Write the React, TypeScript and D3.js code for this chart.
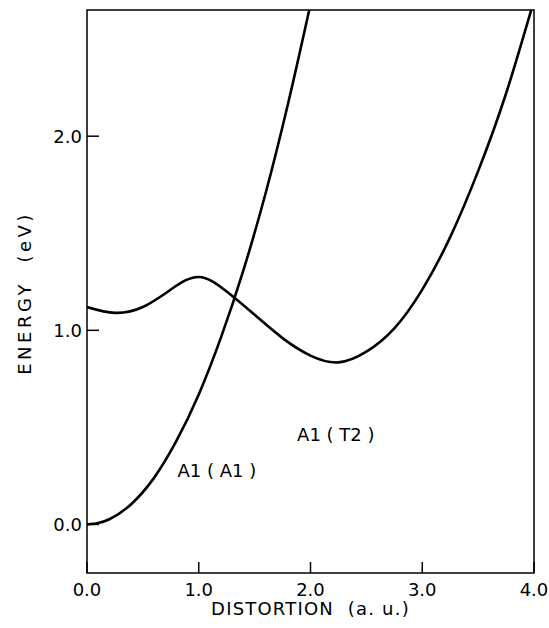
import React from 'react';
import * as d3 from 'd3';

// distortion (a.u.) vs energy (eV)
const a1Distortion = [0, 0.1, 0.2, 0.4, 0.6, 0.8, 1.0, 1.2, 1.4, 1.6, 1.8, 2.0];
const a1Energy = [0, 0.007, 0.027, 0.107, 0.24, 0.43, 0.67, 0.965, 1.31, 1.71, 2.17, 2.68];

const t2Distortion = [0, 0.25, 0.5, 0.75, 1.0, 1.25, 1.5, 1.75, 2.0, 2.25, 2.5, 2.75, 3.0, 3.25, 3.5, 3.75, 4.0];
const t2Energy = [1.12, 1.09, 1.12, 1.21, 1.275, 1.2, 1.08, 0.96, 0.87, 0.835, 0.89, 1.01, 1.21, 1.48, 1.82, 2.22, 2.7];

const xTicks = [0, 1, 2, 3, 4];
const yTicks = [0, 1, 2];

const W = 549, H = 628;
const margin = { left: 87, right: 15, top: 10, bottom: 55 };
const FONT = "'DejaVu Sans', sans-serif";

export default function App() {
  const x = d3.scaleLinear().domain([0, 4]).range([margin.left, W - margin.right]);
  const y = d3.scaleLinear().domain([-0.25, 2.65]).range([H - margin.bottom, margin.top]);

  const lineA1 = d3.line<[number, number]>()
    .x(d => x(d[0]))
    .y(d => y(d[1]))
    .curve(d3.curveMonotoneX);
  const lineT2 = d3.line<[number, number]>()
    .x(d => x(d[0]))
    .y(d => y(d[1]))
    .curve(d3.curveNatural);

  const a1Path = lineA1(a1Distortion.map((d, i) => [d, a1Energy[i]]));
  const t2Path = lineT2(t2Distortion.map((d, i) => [d, t2Energy[i]]));

  const x0 = x(0), x1 = x(4), yb = y(-0.25), yt = y(2.65);

  return (
    <div style={{ position: 'absolute', left: 0, top: 0 }}>
      <svg width={W} height={H} style={{ display: 'block', background: '#fff' }}>
        <defs>
          <clipPath id="plot">
            <rect x={x0} y={yt} width={x1 - x0} height={yb - yt} />
          </clipPath>
        </defs>
        <g clipPath="url(#plot)" fill="none" stroke="#000" strokeWidth={2.6}>
          <path d={a1Path || ''} />
          <path d={t2Path || ''} />
        </g>
        <rect x={x0} y={yt} width={x1 - x0} height={yb - yt} fill="none" stroke="#000" strokeWidth={1.5} />
        {xTicks.map(t => (
          <g key={'x' + t}>
            <line x1={x(t)} x2={x(t)} y1={yb} y2={yb - 11} stroke="#000" strokeWidth={1.5} />
            <text x={x(t)} y={yb + 23} textAnchor="middle" fontFamily={FONT} fontSize={18}>
              {t.toFixed(1)}
            </text>
          </g>
        ))}
        {yTicks.map(t => (
          <g key={'y' + t}>
            <line x1={x0} x2={x0 + 12} y1={y(t)} y2={y(t)} stroke="#000" strokeWidth={1.5} />
            <text x={x0 - 5} y={y(t) + 7} textAnchor="end" fontFamily={FONT} fontSize={18}>
              {t.toFixed(1)}
            </text>
          </g>
        ))}
        <text x={(x0 + x1) / 2} y={yb + 42} textAnchor="middle" fontFamily={FONT} fontSize={18}
          letterSpacing={1.2} style={{ whiteSpace: 'pre' }}>
          {'DISTORTION  (a. u.)'}
        </text>
        <text transform={`translate(31,293) rotate(-90)`} textAnchor="middle" fontFamily={FONT}
          fontSize={18} letterSpacing={3.5} style={{ whiteSpace: 'pre' }}>
          {'ENERGY  (eV)'}
        </text>
        <text x={x(1.88)} y={y(0.43)} fontFamily={FONT} fontSize={18} style={{ whiteSpace: 'pre' }}>{'A1 ( T2 )'}</text>
        <text x={x(0.81)} y={y(0.245)} fontFamily={FONT} fontSize={18} style={{ whiteSpace: 'pre' }}>{'A1 ( A1 )'}</text>
      </svg>
    </div>
  );
}
